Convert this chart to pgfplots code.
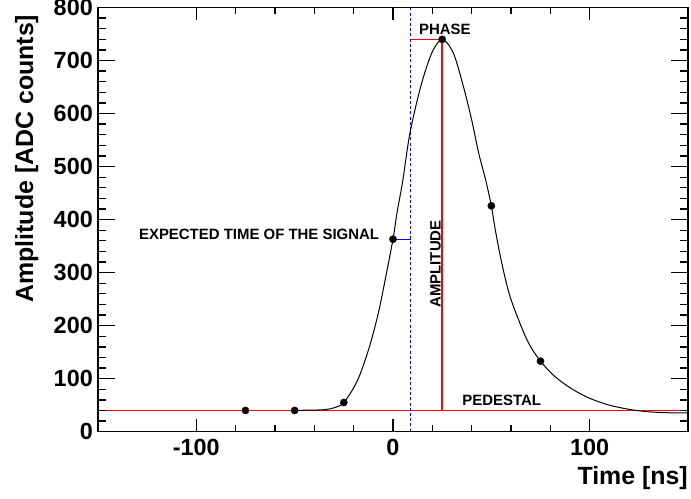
\documentclass[border=0pt]{standalone}
\usepackage{fontspec}
\setmainfont{Liberation Sans}
\usepackage{pgfplots}
\pgfplotsset{compat=1.18}

\newcommand\notefont{\bfseries\fontsize{15}{16}\selectfont}
\newcommand\titlefont{\bfseries\fontsize{25}{26}\selectfont}

\begin{document}
\begin{tikzpicture}
\pgfplotsset{
  rootframe/.style={
    width=590bp, height=424.2bp, scale only axis,
    xmin=-150, xmax=150, ymin=0, ymax=800,
    axis line style={line width=1.6bp},
    tick align=inside, tick pos=both,
    every tick/.style={black, line width=1.3bp},
    tick label style={font=\bfseries\fontsize{23.5}{24}\selectfont, inner sep=0pt},
    /pgf/number format/assume math mode=true,
  }
}
% frame, x ticks and the data
\begin{axis}[rootframe, name=main, clip mode=individual,
    xtick={-100,0,100}, xticklabels={-100,0,100}, minor x tick num=4,
    major tick length=12.3bp, minor tick length=6.7bp,
    ytick=\empty,
    xticklabel style={anchor=north, yshift=-7.6bp}]
  % pedestal
  \addplot[color=red, line width=1.5bp] coordinates {(-150,40) (150,40)};
  % amplitude
  \addplot[color=red, line width=1.5bp] coordinates {(25,40) (25,740)};
  % phase
  \addplot[color=red, line width=1.5bp] coordinates {(9,740) (25,740)};
  % expected time
  \addplot[color=blue, line width=1.4bp, dash pattern=on 3bp off 2.2bp] coordinates {(9,0) (9,800)};
  \addplot[color=blue, line width=1.4bp] coordinates {(0,363) (9,363)};
  % fitted pulse
  \addplot[black, line width=1bp, smooth, tension=0.5] coordinates {
    (-50,40.3) (-42,40.6) (-35,41.5) (-30,45) (-25,55) (-18,97) (-12,160)
    (-7.5,223) (-4,286) (0,363) (2,412) (5,474) (8.6,563) (14.1,651)
    (19.7,714) (25,740) (30.7,714) (35.8,651) (40,588) (43.6,525)
    (47.1,475) (50,426) (52,381) (55.3,318) (59.5,255) (65.9,192)
    (70,160) (75,133) (80,112) (85,96) (90,83) (95,72) (100,63)
    (105,56) (110,50) (116,45) (122,41) (130,37.5) (140,35.7) (150,35.5)
  };
  % samples
  \addplot[only marks, mark=*, mark size=3.6bp, black] coordinates {
    (-75,40) (-50,40) (-25,55) (0,363) (25,740) (50,426) (75,133)
  };
  \node[font=\notefont, inner sep=0pt, anchor=base] at (axis cs:26.4,750) {PHASE};
  \node[font=\notefont, inner sep=0pt, anchor=base east] at (axis cs:-7,363) {EXPECTED TIME OF THE SIGNAL};
  \node[font=\notefont, inner sep=0pt, rotate=90, anchor=base east] at (axis cs:24.2,399) {AMPLITUDE};
  \node[font=\notefont, inner sep=0pt, anchor=base west] at (axis cs:35.2,50) {PEDESTAL};
\end{axis}
% y ticks (longer than the x ones)
\begin{axis}[rootframe, hide x axis,
    ytick={0,100,...,800}, minor y tick num=4,
    major tick length=17bp, minor tick length=8.5bp,
    yticklabel style={anchor=east, xshift=-5bp}]
\end{axis}
\node[font=\titlefont, anchor=base east, inner sep=0pt]
  at ([yshift=-53.3bp]main.south east) {Time [ns]};
\node[font=\titlefont, rotate=90, anchor=base east, inner sep=0pt]
  at ([shift={(-65bp,-7bp)}]main.north west) {Amplitude [ADC counts]};
\pgfresetboundingbox
\path ([shift={(-98bp,-67.3bp)}]main.south west) rectangle ([shift={(3bp,7.5bp)}]main.north east);
\end{tikzpicture}
\end{document}
